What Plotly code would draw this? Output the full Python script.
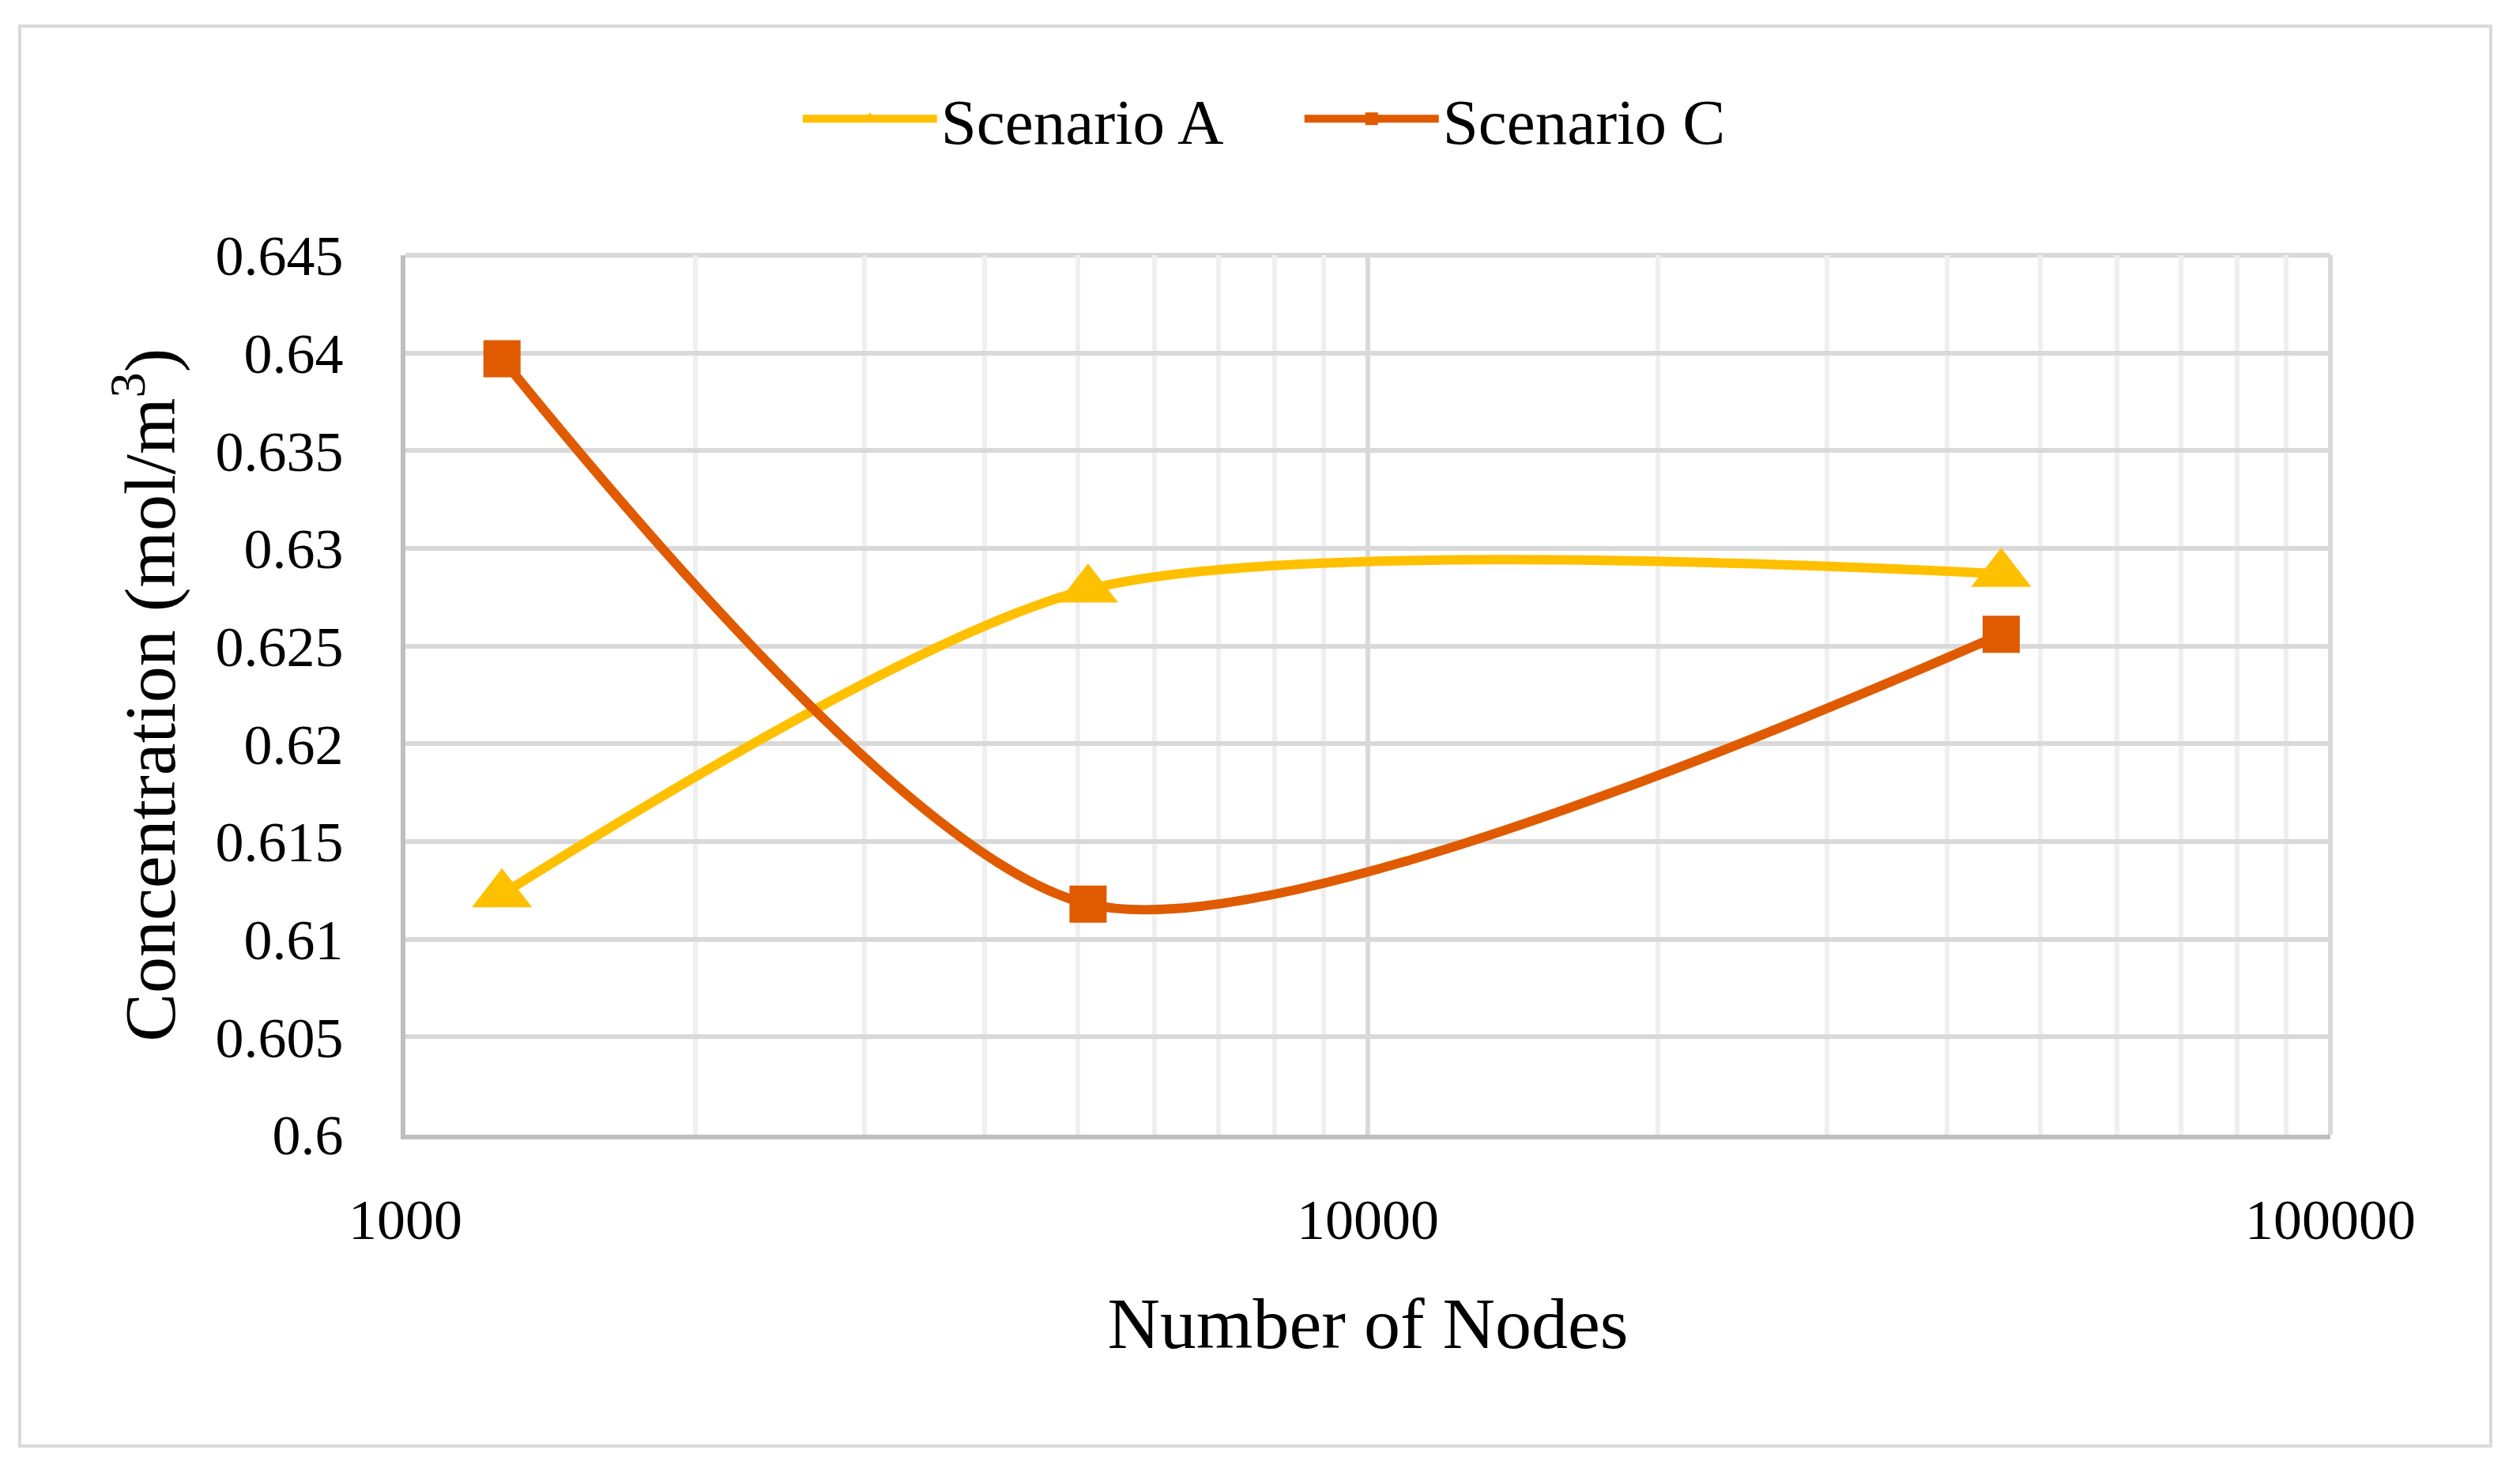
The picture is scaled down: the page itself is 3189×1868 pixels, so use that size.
import plotly.graph_objects as go

# ---- data ----
nodes = [1260, 5120, 45500]
scenario_a = [0.6123, 0.6279, 0.6287]
scenario_c = [0.6397, 0.6118, 0.6256]

x_tickvals = [1000, 10000, 100000]
x_ticktext = ["1000", "10000", "100000"]
y_tickvals = [0.6, 0.605, 0.61, 0.615, 0.62, 0.625, 0.63, 0.635, 0.64, 0.645]
y_ticktext = ["0.6", "0.605", "0.61", "0.615", "0.62", "0.625", "0.63", "0.635", "0.64", "0.645"]

YELLOW = "#FFC000"
ORANGE = "#E05A00"
GRID = "#d9d9d9"
FONT = "Liberation Serif"

fig = go.Figure()
fig.add_trace(go.Scatter(
    x=nodes, y=scenario_a, name="Scenario A", mode="lines+markers",
    line=dict(color=YELLOW, width=12, shape="spline", smoothing=0.75),
    marker=dict(symbol="triangle-up", size=66, color=YELLOW),
))
fig.add_trace(go.Scatter(
    x=nodes, y=scenario_c, name="Scenario C", mode="lines+markers",
    line=dict(color=ORANGE, width=12, shape="spline", smoothing=0.75),
    marker=dict(symbol="square", size=47, color=ORANGE),
))

fig.update_layout(
    width=3173, height=1852,
    margin=dict(l=505, r=232, t=315, b=424),
    paper_bgcolor="white", plot_bgcolor="white",
    font=dict(family=FONT, color="black", size=72),
    showlegend=True,
    legend=dict(orientation="h", x=0.465, xanchor="center", y=1.155, yanchor="middle",
                font=dict(size=81, family=FONT), itemwidth=170, entrywidth=450,
                bgcolor="rgba(0,0,0,0)"),
    shapes=[
        dict(type="rect", xref="paper", yref="paper", x0=-0.2003, x1=1.0833, y0=-0.354, y1=1.2606,
             line=dict(color=GRID, width=4), layer="below"),
        dict(type="line", xref="paper", yref="paper", x0=0, x1=1, y0=1, y1=1,
             line=dict(color=GRID, width=6), layer="below"),
        dict(type="line", xref="paper", yref="paper", x0=1, x1=1, y0=0, y1=1,
             line=dict(color=GRID, width=6), layer="below"),
    ],
)

fig.update_xaxes(
    type="log", range=[3, 5],
    tickvals=x_tickvals, ticktext=x_ticktext,
    tickfont=dict(size=72, family=FONT), ticks="", ticklabelstandoff=40,
    showline=True, linecolor="#bfbfbf", linewidth=6,
    showgrid=True, gridcolor=GRID, gridwidth=6,
    minor=dict(showgrid=True, gridcolor="#efefef", gridwidth=6, dtick="D1"),
    title=dict(text="Number of Nodes", font=dict(size=92, family=FONT), standoff=60),
    zeroline=False,
)
fig.update_yaxes(
    range=[0.6, 0.645],
    tickvals=y_tickvals, ticktext=y_ticktext,
    tickfont=dict(size=72, family=FONT), ticks="", ticklabelstandoff=58,
    showline=True, linecolor="#bfbfbf", linewidth=6,
    showgrid=True, gridcolor=GRID, gridwidth=6,
    title=dict(text="Concentration (mol/m<sup>3</sup>)", font=dict(size=92, family=FONT), standoff=22),
    zeroline=False,
)

fig.write_html("out.html")
